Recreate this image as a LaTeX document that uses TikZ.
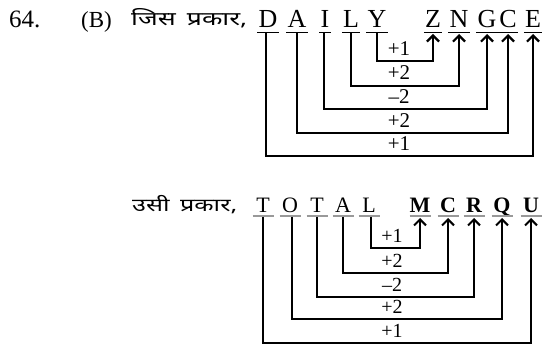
\documentclass[tikz,border=0pt]{standalone}
\usepackage{fontspec}
\setmainfont{Liberation Serif}
\newfontfamily\hindi[Script=Devanagari,FakeStretch=1.4,WordSpace=1.6]{Noto Sans}
\usetikzlibrary{arrows.meta}
\tikzset{
  letA/.style={inner sep=0pt, anchor=base, font=\fontsize{26}{26}\selectfont},
  letB/.style={inner sep=0pt, anchor=base, font=\fontsize{22}{22}\selectfont},
  letBb/.style={inner sep=0pt, anchor=base, font=\fontsize{22}{22}\selectfont\bfseries},
  lblA/.style={inner sep=0pt, anchor=base, font=\fontsize{21}{21}\selectfont},
  lblB/.style={inner sep=0pt, anchor=base, font=\fontsize{20}{20}\selectfont},
  connA/.style={line width=2.5pt, -{Straight Barb[length=6pt,width=12pt,line width=2.2pt]}},
  connB/.style={line width=2.2pt, -{Straight Barb[length=6pt,width=12pt,line width=2pt]}},
  ulA/.style={line width=1.3pt, black},
  ulB/.style={line width=1.3pt, black!40},
}
\begin{document}
\begin{tikzpicture}[x=1pt,y=-1pt]
\useasboundingbox (0,0) rectangle (544,347);
% heading
\node[inner sep=0pt, anchor=base west, font=\fontsize{25}{25}\selectfont] (num) at (9,28) {64.};
\node[inner sep=0pt, anchor=base west, font=\fontsize{23}{23}\selectfont] (opt) at (81,28) {(B)};
\node[inner sep=0pt, anchor=base west, font=\hindi\fontsize{19}{19}\selectfont] (h1) at (131,26) {जिस प्रकार,};
\node[inner sep=0pt, anchor=base west, font=\hindi\fontsize{18}{18}\selectfont] (h2) at (132,212) {उसी प्रकार,};
% top letters
\node[letA] (tD) at (268,28) {D};
\node[letA] (tA) at (297,28) {A};
\node[letA] (tI) at (325,28) {I};
\node[letA] (tL) at (351,28) {L};
\node[letA] (tY) at (377,28) {Y};
\node[letA] (tZ) at (433,28) {Z};
\node[letA] (tN) at (459,28) {N};
\node[letA] (tG) at (487,28) {G};
\node[letA] (tC) at (508,28) {C};
\node[letA] (tE) at (533,28) {E};
\foreach \n in {tD,tA,tI,tL,tY,tZ,tN,tG,tC,tE}
  \draw[ulA] ([yshift=-4pt,xshift=-1pt]\n.south west) -- ([yshift=-4pt,xshift=1pt]\n.south east);
% top levels
\coordinate (a1) at (0,61);
\coordinate (a2) at (0,86);
\coordinate (a3) at (0,109);
\coordinate (a4) at (0,133);
\coordinate (a5) at (0,156);
\coordinate (at) at (0,34);
\draw[connA] ([yshift=-5pt]tY.base) |- (tZ.base |- a1) -- (tZ.base |- at);
\draw[connA] ([yshift=-5pt]tL.base) |- (tN.base |- a2) -- (tN.base |- at);
\draw[connA] ([yshift=-5pt,xshift=-1pt]tI.base) |- (tG.base |- a3) -- (tG.base |- at);
\draw[connA] ([yshift=-5pt]tA.base) |- (tC.base |- a4) -- (tC.base |- at);
\draw[connA] ([yshift=-5pt,xshift=-2pt]tD.base) |- (tE.base |- a5) -- (tE.base |- at);
\node[lblA] (la1) at (399,56) {+1};
\node[lblA] (la2) at (399,80) {+2};
\node[lblA] (la3) at (399,104) {\textendash2};
\node[lblA] (la4) at (399,128) {+2};
\node[lblA] (la5) at (399,151) {+1};
% bottom letters
\node[letB] (bT1) at (263,213) {T};
\node[letB] (bO) at (290,213) {O};
\node[letB] (bT2) at (317,213) {T};
\node[letB] (bA) at (343,213) {A};
\node[letB] (bL) at (369,213) {L};
\node[letBb] (bM) at (420,213) {M};
\node[letBb] (bC) at (448,213) {C};
\node[letBb] (bR) at (474,213) {R};
\node[letBb] (bQ) at (502,213) {Q};
\node[letBb] (bU) at (531,213) {U};
\foreach \n in {bT1,bO,bT2,bA,bL,bM,bC,bR,bQ,bU}
  \draw[ulB] ([yshift=-3pt,xshift=-10.5pt]\n.base) -- ([yshift=-3pt,xshift=10.5pt]\n.base);
\coordinate (b1) at (0,248);
\coordinate (b2) at (0,273);
\coordinate (b3) at (0,297);
\coordinate (b4) at (0,319);
\coordinate (b5) at (0,343);
\coordinate (bt) at (0,218);
\draw[connB] ([yshift=-4pt,xshift=2pt]bL.base) |- (bM.base |- b1) -- (bM.base |- bt);
\draw[connB] ([yshift=-4pt]bA.base) |- (bC.base |- b2) -- (bC.base |- bt);
\draw[connB] ([yshift=-4pt]bT2.base) |- (bR.base |- b3) -- (bR.base |- bt);
\draw[connB] ([yshift=-4pt,xshift=2pt]bO.base) |- (bQ.base |- b4) -- (bQ.base |- bt);
\draw[connB] ([yshift=-4pt]bT1.base) |- (bU.base |- b5) -- (bU.base |- bt);
\node[lblB] (lb1) at (392,243) {+1};
\node[lblB] (lb2) at (392,268) {+2};
\node[lblB] (lb3) at (392,292) {\textendash2};
\node[lblB] (lb4) at (392,314) {+2};
\node[lblB] (lb5) at (392,338) {+1};
\end{tikzpicture}
\end{document}
